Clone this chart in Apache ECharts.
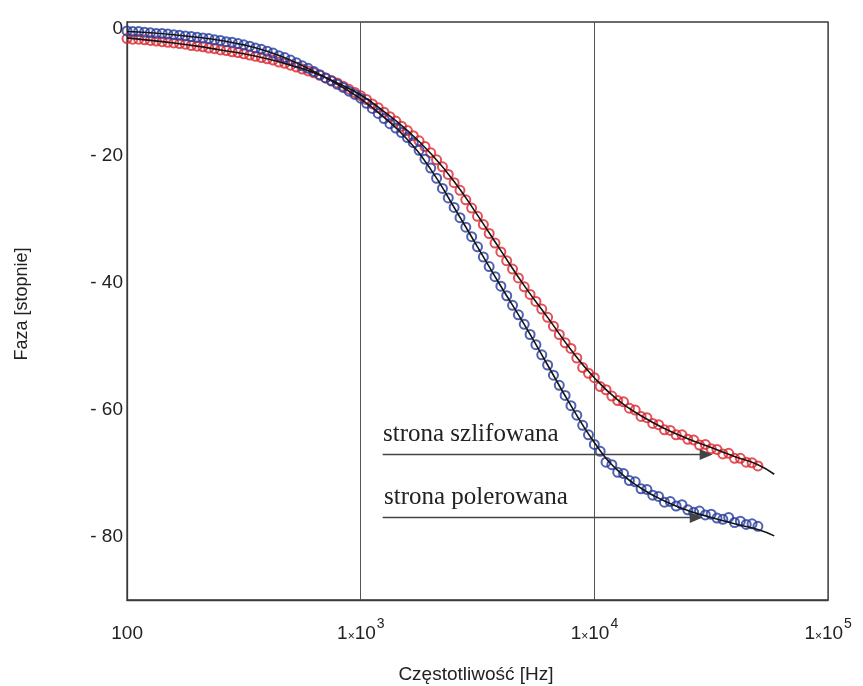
<!DOCTYPE html>
<html>
<head>
<meta charset="utf-8">
<script src="https://cdn.jsdelivr.net/npm/echarts@6/dist/echarts.min.js"></script>
<style>
html,body{margin:0;padding:0;background:#fff;}
#chart{width:863px;height:686px;}
</style>
</head>
<body>
<div id="chart"></div>
<script>
// Frequencies of measured points [Hz]
const freq = [
100,105.9,112.2,118.9,125.9,133.4,141.3,149.6,158.5,167.9,
177.8,188.4,199.5,211.3,223.9,237.1,251.2,266.1,281.8,298.5,
316.2,335.0,354.8,375.8,398.1,421.7,446.7,473.2,501.2,530.9,
562.3,595.7,631.0,668.3,707.9,749.9,794.3,841.4,891.3,944.1,
1000,1059,1122,1189,1259,1334,1413,1496,1585,1679,
1778,1884,1995,2113,2239,2371,2512,2661,2818,2985,
3162,3350,3548,3758,3981,4217,4467,4732,5012,5309,
5623,5957,6310,6683,7079,7499,7943,8414,8913,9441,
10000,10593,11220,11885,12589,13335,14125,14962,15849,16788,
17783,18836,19953,21135,22387,23714,25119,26607,28184,29854,
31623,33497,35481,37584,39811,42170,44668,47315,50119
];
// strona polerowana (blue circles) – phase [deg]
const polerowana = [
-0.4,-0.5,-0.5,-0.6,-0.7,-0.8,-0.8,-0.9,-1.0,-1.1,
-1.2,-1.3,-1.4,-1.5,-1.6,-1.8,-1.9,-2.1,-2.2,-2.4,
-2.6,-2.8,-3.1,-3.3,-3.6,-3.9,-4.3,-4.6,-5.0,-5.4,
-5.9,-6.3,-6.8,-7.3,-7.8,-8.3,-8.8,-9.3,-9.9,-10.4,
-11.0,-11.8,-12.6,-13.4,-14.2,-15.0,-15.7,-16.4,-17.2,-18.0,
-19.2,-20.6,-22.0,-23.6,-25.2,-26.7,-28.2,-29.8,-31.3,-32.8,
-34.4,-36.0,-37.5,-39.1,-40.6,-42.1,-43.6,-45.1,-46.6,-48.2,
-49.8,-51.4,-53.0,-54.6,-56.2,-57.8,-59.4,-60.9,-62.5,-64.0,
-65.5,-66.6,-68.3,-68.7,-69.9,-70.1,-71.2,-71.4,-72.5,-72.6,
-73.5,-73.7,-74.6,-74.5,-75.2,-75.0,-75.8,-76.2,-76.0,-76.6,
-76.5,-77.1,-77.3,-77.0,-77.8,-77.6,-78.1,-78.0,-78.4
];
// strona szlifowana (red circles) – phase [deg]
const szlifowana = [
-1.6,-1.7,-1.7,-1.8,-1.9,-2.0,-2.1,-2.2,-2.3,-2.4,
-2.5,-2.7,-2.8,-2.9,-3.1,-3.2,-3.4,-3.5,-3.7,-3.8,
-4.0,-4.2,-4.4,-4.6,-4.8,-5.0,-5.3,-5.5,-5.8,-6.1,
-6.4,-6.7,-7.0,-7.4,-7.8,-8.2,-8.6,-9.1,-9.6,-10.1,
-10.6,-11.2,-11.9,-12.5,-13.2,-13.9,-14.6,-15.4,-16.1,-16.9,
-17.7,-18.6,-19.6,-20.7,-21.8,-23.0,-24.3,-25.5,-27.0,-28.3,
-29.6,-30.9,-32.3,-33.8,-35.2,-36.6,-37.9,-39.3,-40.7,-41.9,
-43.0,-44.2,-45.5,-46.9,-48.2,-49.5,-50.4,-51.9,-53.4,-54.3,
-55.0,-56.4,-56.9,-57.9,-58.6,-58.8,-59.8,-60.1,-61.1,-61.3,
-62.2,-62.4,-63.2,-63.3,-64.0,-64.0,-64.7,-64.8,-65.6,-65.5,
-66.2,-66.3,-67.0,-66.9,-67.7,-67.7,-68.3,-68.4,-68.9
];
// fitted model curves (black lines)
const fitFreq = [100,125.9,158.5,199.5,251.2,316.2,398.1,501.2,631,794.3,1000,1259,1585,1995,2512,3162,3981,5012,6310,7943,10000,12589,15849,19953,25119,31623,39811,50119,58884];
const fitPolerowana = [-0.5,-0.7,-1.0,-1.4,-1.9,-2.6,-3.6,-5.0,-6.8,-8.8,-11.1,-14.0,-17.5,-22.2,-28.2,-34.4,-40.6,-46.6,-53.0,-59.4,-65.2,-69.6,-72.4,-74.4,-75.9,-77.0,-78.0,-78.9,-79.9];
const fitSzlifowana = [-1.5,-1.9,-2.3,-2.8,-3.4,-4.0,-4.8,-5.8,-7.0,-8.6,-10.5,-13.1,-16.1,-19.7,-24.1,-29.4,-35.0,-40.5,-45.5,-50.6,-55.0,-58.5,-61.0,-63.0,-64.6,-66.0,-67.4,-68.7,-70.2];
// axis ticks
const xTicks = [100, 1000, 10000, 100000];
const yLabelled = [0, -20, -40, -60, -80];
const labels = ['strona szlifowana', 'strona polerowana'];

const zip = (xs, ys) => xs.map((x, i) => [x, ys[i]]);

const chart = echarts.init(document.getElementById('chart'));
const sans = 'Liberation Sans, Arial, sans-serif';
chart.setOption({
  animation: false,
  backgroundColor: '#fff',
  grid: { left: 127, right: 35, top: 22, bottom: 86, show: true, borderColor: '#3a3a3a', borderWidth: 1.3, backgroundColor: 'transparent' },
  xAxis: {
    type: 'log', logBase: 10, min: 100, max: 100000,
    axisLine: { show: true, onZero: false, lineStyle: { color: '#3a3a3a', width: 1.3 } },
    axisTick: { show: false },
    minorTick: { show: false },
    splitLine: { show: true, lineStyle: { color: '#555', width: 1 } },
    axisLabel: {
      margin: 17, color: '#222', fontFamily: sans, fontSize: 19,
      formatter: function (v) {
        if (xTicks.indexOf(v) < 0) return '';
        if (v === 100) return '{h| }{n|100}';
        const e = Math.round(Math.log10(v));
        return '{h| }{n|1}{x|×}{n|10}{s|' + e + '}';
      },
      rich: {
        h: { fontSize: 1, lineHeight: 26, verticalAlign: 'top' },
        n: { fontSize: 19, fontFamily: sans, color: '#222', lineHeight: 19, verticalAlign: 'bottom' },
        x: { fontSize: 12, fontFamily: sans, color: '#222', lineHeight: 15, verticalAlign: 'bottom' },
        s: { fontSize: 14, fontFamily: sans, color: '#222', lineHeight: 14, verticalAlign: 'top', padding: [0, 0, 0, 1] }
      }
    }
  },
  yAxis: {
    type: 'value', min: -90, max: 1, interval: 10,
    axisLine: { show: true, onZero: false, lineStyle: { color: '#3a3a3a', width: 1.3 } },
    axisTick: { show: false },
    splitLine: { show: false },
    axisLabel: {
      margin: 4, color: '#222', fontFamily: sans, fontSize: 19,
      formatter: function (v) {
        if (yLabelled.indexOf(v) < 0) return '';
        return v === 0 ? '0' : '- ' + Math.abs(v);
      }
    }
  },
  graphic: [
    { type: 'text', style: { text: 'Częstotliwość [Hz]', font: '19px ' + sans, fill: '#222', x: 476, y: 675, align: 'center', verticalAlign: 'middle' } },
    { type: 'text', rotation: Math.PI / 2, x: 22, y: 304, style: { text: 'Faza [stopnie]', font: '18px ' + sans, fill: '#222', x: 0, y: 0, align: 'center', verticalAlign: 'middle' } },
    { type: 'text', style: { text: labels[0], font: '25px "Liberation Serif", "Times New Roman", serif', fill: '#222', x: 383, y: 434, align: 'left', verticalAlign: 'middle' } },
    { type: 'text', style: { text: labels[1], font: '25px "Liberation Serif", "Times New Roman", serif', fill: '#222', x: 384, y: 497, align: 'left', verticalAlign: 'middle' } }
  ],
  series: [
    {
      name: 'strona szlifowana', type: 'scatter', data: zip(freq, szlifowana),
      symbol: 'circle', symbolSize: 9,
      itemStyle: { color: 'rgba(255,255,255,0)', borderColor: '#dc2630', borderWidth: 2 },
      z: 2
    },
    {
      name: 'strona polerowana', type: 'scatter', data: zip(freq, polerowana),
      symbol: 'circle', symbolSize: 9,
      itemStyle: { color: 'rgba(255,255,255,0)', borderColor: '#26399e', borderWidth: 2 },
      z: 3
    },
    {
      name: 'fit szlifowana', type: 'line', data: zip(fitFreq, fitSzlifowana),
      symbol: 'none', smooth: 0.5,
      lineStyle: { color: '#151515', width: 1.6 },
      z: 4
    },
    {
      name: 'fit polerowana', type: 'line', data: zip(fitFreq, fitPolerowana),
      symbol: 'none', smooth: 0.5,
      lineStyle: { color: '#151515', width: 1.6 },
      z: 5,
      markLine: {
        silent: true, symbol: ['none', 'triangle'], symbolSize: [11, 13],
        label: { show: false },
        lineStyle: { color: '#444', width: 1.3, type: 'solid' },
        itemStyle: { color: '#111' },
        data: [
          [{ coord: [1242, -67.1] }, { coord: [30100, -67.1] }],
          [{ coord: [1242, -77.0] }, { coord: [27300, -77.0] }]
        ]
      }
    }
  ]
});
</script>
</body>
</html>
